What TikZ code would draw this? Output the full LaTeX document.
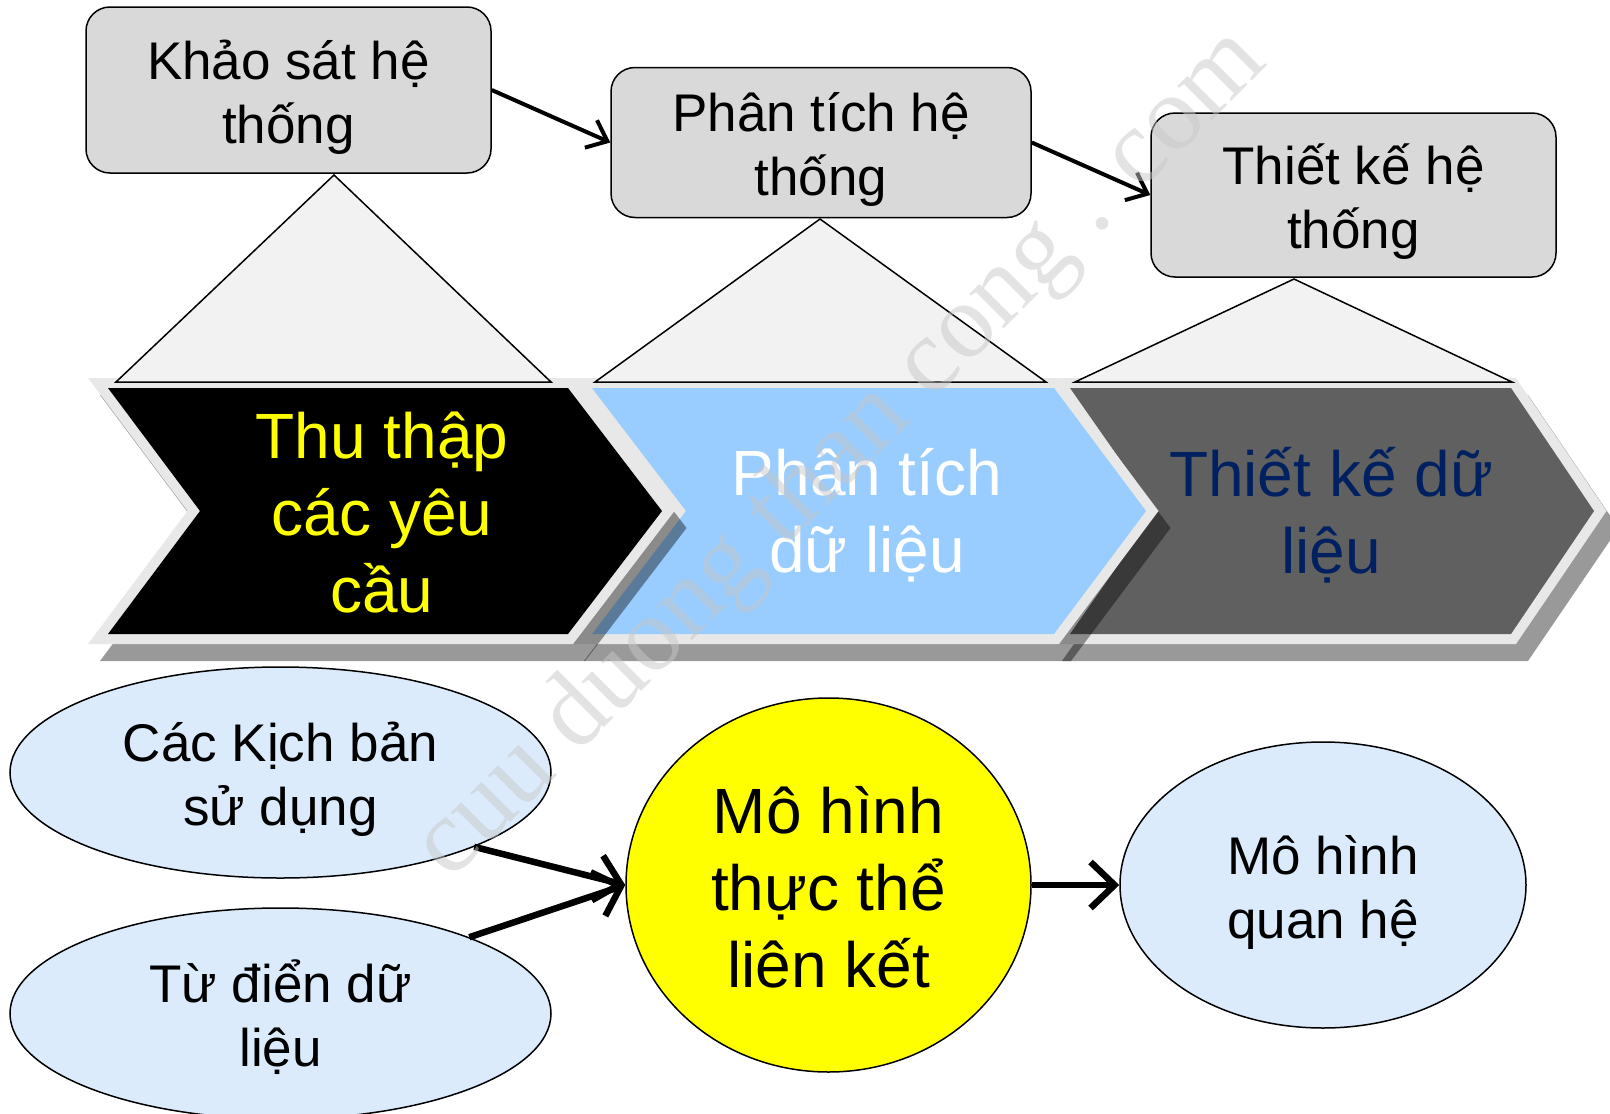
\documentclass[tikz,border=0pt]{standalone}
\usepackage{fontspec}
\setmainfont{Liberation Sans}
\newfontfamily\wmfont{Liberation Serif}
\usetikzlibrary{shapes.geometric,arrows.meta}
\definecolor{boxgray}{HTML}{D9D9D9}
\definecolor{trigray}{HTML}{F2F2F2}
\definecolor{chevborder}{HTML}{E8E8E8}
\definecolor{chevblue}{HTML}{99CCFF}
\definecolor{chevdark}{HTML}{606060}
\definecolor{navy}{HTML}{002060}
\definecolor{ellblue}{HTML}{DCEBFC}
\definecolor{wmgray}{HTML}{C8C8C8}
\definecolor{pureyellow}{RGB}{255,255,0}
% #1 left x, #2 notch x, #3 top-right x, #4 tip x, #5 fill colour
\newcommand\chevshape[5]{%
  \fill[black,opacity=.4] (#1-20+12,378+17) -- (#3+5+12,378+17) -- (#4+12.5+12,511+17) -- (#3+5+12,644+17) -- (#1-20+12,644+17) -- (#2-12.5+12,511+17) -- cycle;
  \fill[chevborder] (#1-20,378) -- (#3+5,378) -- (#4+12.5,511) -- (#3+5,644) -- (#1-20,644) -- (#2-12.5,511) -- cycle;
  \fill[#5] (#1,388) -- (#3,388) -- (#4,511) -- (#3,634) -- (#1,634) -- (#2,511) -- cycle;
}
\tikzset{
  topbox/.style={draw=black, line width=1.5pt, fill=boxgray, rounded corners=24pt, inner sep=0pt},
  boxtext/.style={align=center, font=\fontsize{53}{64}\selectfont, inner sep=0pt},
  tri/.style={draw=black, line width=1.5pt, fill=trigray, line join=miter},
  flowarrow/.style={-{Straight Barb[length=18pt,width=30pt]}, line width=4pt},
  bigarrow/.style={-{Straight Barb[length=24pt,width=46pt]}, line width=6.5pt},
  bubble/.style={ellipse, draw=black, line width=1.5pt, fill=ellblue, inner sep=0pt},
  bubbletext/.style={align=center, font=\fontsize{53}{64}\selectfont, inner sep=0pt},
  chevtext/.style={align=center, font=\fontsize{64}{77}\selectfont, inner sep=0pt},
}
\begin{document}
\begin{tikzpicture}[x=1pt,y=-1pt]
\fill[white] (0,0) rectangle (1610,1114);
\useasboundingbox (0,0) rectangle (1610,1114);
% chevrons (drawn right to left so each shadow falls on the next one)
\chevshape{1070}{1156}{1511}{1594}{chevdark}
\chevshape{592}{686}{1054}{1146}{chevblue}
\chevshape{108}{200}{568}{662}{black}
% triangles
\draw[tri] (334,175) -- (116,382) -- (551,382) -- cycle;
\draw[tri] (820,219) -- (595,382) -- (1046,382) -- cycle;
\draw[tri] (1294,279) -- (1075,382) -- (1512,382) -- cycle;
% top boxes
\node[topbox, minimum width=405pt, minimum height=166pt] (b1) at (288.5,90) {};
\node[topbox, minimum width=420pt, minimum height=150pt] (b2) at (821,142.5) {};
\node[topbox, minimum width=405pt, minimum height=164pt] (b3) at (1353.5,195) {};
\node[boxtext] (b1t) at (288.5,97) {Khảo sát hệ\\thống};
\node[boxtext] (b2t) at (821,149.5) {Phân tích hệ\\thống};
\node[boxtext] (b3t) at (1353.5,202) {Thiết kế hệ\\thống};
\draw[flowarrow] (b1.east) -- (b2.west);
\draw[flowarrow] (b2.east) -- (b3.west);
% chevron texts
\node[chevtext, text=pureyellow] (t1) at (382,513) {Thu thập\\các yêu\\cầu};
\node[chevtext, text=white] (t2) at (867,515) {Phân tích\\dữ liệu};
\node[chevtext, text=navy] (t3) at (1331,515) {Thiết kế dữ\\liệu};
% bottom
\node[bubble, minimum width=541pt, minimum height=211pt] (e1) at (280.5,772.5) {};
\node[bubble, minimum width=541pt, minimum height=211pt] (e2) at (280.5,1013.5) {};
\node[ellipse, draw=black, line width=1.5pt, fill=pureyellow, inner sep=0pt,
  minimum width=405pt, minimum height=374pt] (erd) at (828.5,885) {};
\node[bubble, minimum width=406pt, minimum height=286pt] (rel) at (1323,885) {};
\node[bubbletext] (e1t) at (280.5,779) {Các Kịch bản\\sử dụng};
\node[bubbletext] (e2t) at (280.5,1017) {Từ điển dữ\\liệu};
\node[chevtext] (erdt) at (828.5,887) {Mô hình\\thực thể\\liên kết};
\node[bubbletext] (relt) at (1323,892) {Mô hình\\quan hệ};
\draw[bigarrow] (e1.-21) -- (erd.west);
\draw[bigarrow] (e2.22) -- (erd.west);
\draw[bigarrow] (erd.east) -- (rel.west);
% watermark
\node[font=\wmfont\fontsize{106}{106}\selectfont, text=wmgray, text opacity=.5, rotate=45] (wm) at (842,455) {cuu duong than cong . com};
\end{tikzpicture}
\end{document}
